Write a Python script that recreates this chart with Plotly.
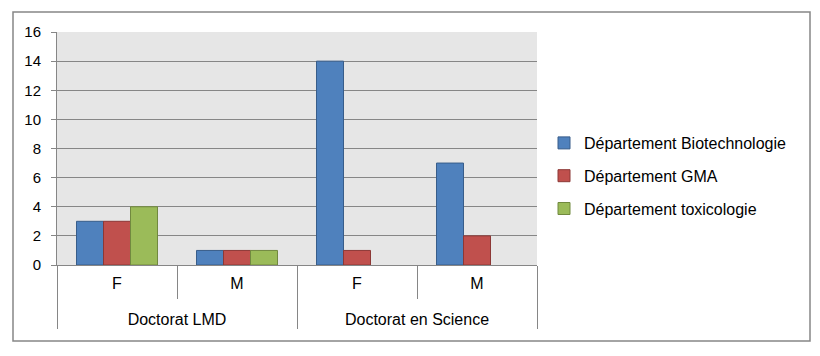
import plotly.graph_objects as go

outer = ["Doctorat LMD", "Doctorat LMD", "Doctorat en Science", "Doctorat en Science"]
inner = ["F", "M", "F", "M"]
series_names = ["Département Biotechnologie", "Département GMA", "Département toxicologie"]
biotech = [3, 1, 14, 7]
gma = [3, 1, 1, 2]
toxico = [4, 1, None, None]
y_ticks = [0, 2, 4, 6, 8, 10, 12, 14, 16]

fills = ["#4F81BD", "#C0504D", "#9BBB59"]
edges = ["#385D8A", "#8C3836", "#71893F"]

inner_labels = [s + "<br> " for s in inner]

fig = go.Figure()
for i, (name, vals) in enumerate(zip(series_names, [biotech, gma, toxico])):
    fig.add_trace(go.Bar(
        x=[outer, inner_labels], y=vals, name=name,
        marker=dict(color=fills[i], line=dict(color=edges[i], width=1)),
        legendgroup=f"g{i}",
    ))

W, H = 820, 356
L, R, T, B = 57, 537, 32, 265
pw, ph = R - L, B - T

def px(x):
    return (x - L) / pw

def py(y):
    return (B - y) / ph

fig.update_layout(
    width=W, height=H,
    margin=dict(l=L, r=W - R, t=T, b=H - B, autoexpand=False),
    paper_bgcolor="white",
    plot_bgcolor="#E6E6E6",
    barmode="group", bargap=0.325, bargroupgap=0,
    font=dict(family="Liberation Sans, Arial, sans-serif", size=15, color="#000000"),
    showlegend=True,
    legend=dict(
        x=px(544), y=py(176), xanchor="left", yanchor="middle",
        traceorder="grouped", tracegroupgap=9,
        itemwidth=30,
        font=dict(size=16),
        bgcolor="rgba(0,0,0,0)",
    ),
    xaxis=dict(
        type="multicategory",
        showline=True, linecolor="#868686", linewidth=1,
        ticks="outside", ticklen=33, tickcolor="#868686",
        tickson="boundaries",
        showdividers=True, dividercolor="#868686", dividerwidth=1,
        ticklabelstandoff=4,
        showgrid=False,
        tickfont=dict(size=16),
    ),
    yaxis=dict(
        range=[0, 16], tickvals=y_ticks,
        showgrid=True, gridcolor="#868686", gridwidth=1,
        showline=True, linecolor="#868686", linewidth=1,
        ticks="outside", ticklen=5, tickcolor="#868686",
        ticklabelstandoff=7,
        zeroline=False,
        tickfont=dict(size=15),
    ),
    shapes=[dict(
        type="rect", xref="paper", yref="paper",
        x0=px(13), x1=px(810), y0=py(341), y1=py(12),
        line=dict(color="#868686", width=1.5), fillcolor="rgba(0,0,0,0)",
        layer="below",
    )],
)

fig.write_html("out.html", config={"displayModeBar": False},
               post_script="document.body.style.margin='0';")
